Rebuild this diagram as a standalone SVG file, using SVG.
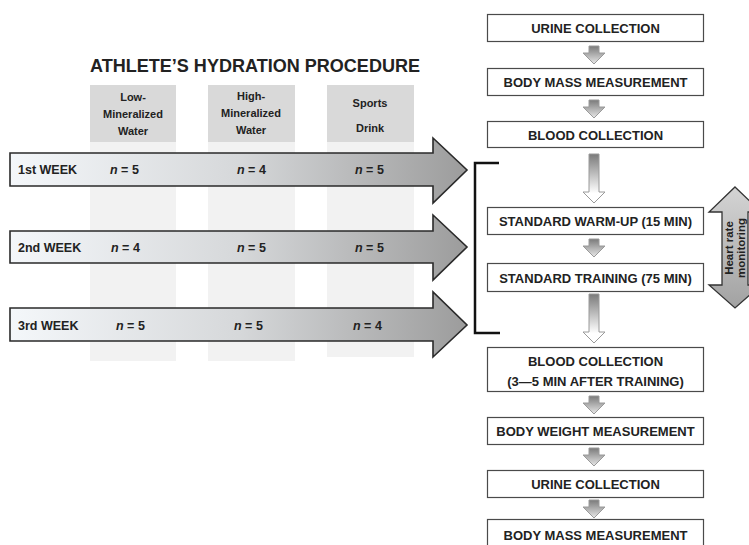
<svg xmlns="http://www.w3.org/2000/svg" width="749" height="545" viewBox="0 0 749 545">
<style>
.t{font-family:"Liberation Sans",Arial,sans-serif;font-weight:bold;fill:#222}
.box{fill:#fff;stroke:#4a4a4a;stroke-width:1.2}
.bt{font-size:13px;text-anchor:middle}
.hd{font-size:11px;text-anchor:middle}
.wk{font-size:12.5px}
.nn{font-size:12.5px}
.week{stroke:#2a2a2a;stroke-width:1.6;fill:url(#gw)}
.sa{fill:url(#gs);stroke:#9a9a9a;stroke-width:1}
.la{fill:url(#gl);stroke:#9a9a9a;stroke-width:1}
</style>
<defs>
<linearGradient id="gw" gradientUnits="userSpaceOnUse" x1="10" y1="0" x2="467" y2="0">
<stop offset="0" stop-color="#f4f7fa"/><stop offset="0.5" stop-color="#d6d8da"/><stop offset="1" stop-color="#9c9c9c"/>
</linearGradient>
<linearGradient id="gs" x1="0" y1="0" x2="0" y2="1">
<stop offset="0" stop-color="#7a7a7a"/><stop offset="1" stop-color="#e8e8e8"/>
</linearGradient>
<linearGradient id="gl" x1="0" y1="0" x2="0" y2="1">
<stop offset="0" stop-color="#7a7a7a"/><stop offset="0.8" stop-color="#ffffff"/><stop offset="1" stop-color="#ffffff"/>
</linearGradient>
<linearGradient id="gh" x1="0" y1="0" x2="0" y2="1">
<stop offset="0" stop-color="#d4d4d4"/><stop offset="1" stop-color="#a2a2a2"/>
</linearGradient>
<path id="small" d="M-5,0 L5,0 L5,7 L11,7 L0,18 L-11,7 L-5,7 Z"/>
<path id="long" d="M-5,0 L5,0 L5,38 L11,38 L0,49 L-11,38 L-5,38 Z"/>
</defs>
<rect width="749" height="545" fill="#fff"/>

<text class="t" x="255" y="72" font-size="19" text-anchor="middle" textLength="330" lengthAdjust="spacingAndGlyphs">ATHLETE’S HYDRATION PROCEDURE</text>

<g id="col-low">
<rect x="90" y="142" width="86" height="219" fill="#f2f2f2"/>
<rect x="90" y="85" width="86" height="57" fill="#d9d9d9"/>
<text class="t hd" x="133" y="101">Low-</text>
<text class="t hd" x="133" y="118">Mineralized</text>
<text class="t hd" x="133" y="135">Water</text>
</g>
<g id="col-high">
<rect x="208" y="142" width="87" height="219" fill="#f2f2f2"/>
<rect x="208" y="85" width="87" height="57" fill="#d9d9d9"/>
<text class="t hd" x="251" y="100">High-</text>
<text class="t hd" x="251" y="117">Mineralized</text>
<text class="t hd" x="251" y="134">Water</text>
</g>
<g id="col-sports">
<rect x="327" y="142" width="87" height="215" fill="#f2f2f2"/>
<rect x="327" y="85" width="87" height="57" fill="#d9d9d9"/>
<text class="t hd" x="370" y="107">Sports</text>
<text class="t hd" x="370" y="132">Drink</text>
</g>

<g id="week1">
<path class="week" d="M10,153 L433,153 L433,138 L467,170 L433,203 L433,186 L10,186 Z"/>
<text class="t wk" x="18" y="174">1st WEEK</text>
<text class="t nn" x="110" y="174"><tspan font-style="italic">n</tspan> = 5</text>
<text class="t nn" x="237" y="174"><tspan font-style="italic">n</tspan> = 4</text>
<text class="t nn" x="355" y="174"><tspan font-style="italic">n</tspan> = 5</text>
</g>
<g id="week2">
<path class="week" d="M10,231 L433,231 L433,215 L467,247 L433,280 L433,263 L10,263 Z"/>
<text class="t wk" x="18" y="252">2nd WEEK</text>
<text class="t nn" x="111" y="252"><tspan font-style="italic">n</tspan> = 4</text>
<text class="t nn" x="237" y="252"><tspan font-style="italic">n</tspan> = 5</text>
<text class="t nn" x="355" y="252"><tspan font-style="italic">n</tspan> = 5</text>
</g>
<g id="week3">
<path class="week" d="M10,308 L433,308 L433,292 L467,325 L433,357 L433,341 L10,341 Z"/>
<text class="t wk" x="18" y="330">3rd WEEK</text>
<text class="t nn" x="116" y="330"><tspan font-style="italic">n</tspan> = 5</text>
<text class="t nn" x="234" y="330"><tspan font-style="italic">n</tspan> = 5</text>
<text class="t nn" x="353" y="330"><tspan font-style="italic">n</tspan> = 4</text>
</g>

<g id="bracket">
<path d="M499,163 L475,163 L475,333 L500,333" fill="none" stroke="#111" stroke-width="2.5"/>
</g>

<g id="connectors">
<use href="#small" class="sa" x="594" y="46"/>
<use href="#small" class="sa" x="594" y="100"/>
<use href="#long" class="la" x="594" y="154"/>
<use href="#small" class="sa" x="594" y="239"/>
<use href="#long" class="la" x="594" y="294"/>
<use href="#small" class="sa" x="594" y="396"/>
<use href="#small" class="sa" x="594" y="448"/>
<use href="#small" class="sa" x="594" y="500"/>
</g>

<g id="s1"><rect class="box" x="487.5" y="14.5" width="216" height="27"/><text class="t bt" x="595.5" y="32.5">URINE COLLECTION</text></g>
<g id="s2"><rect class="box" x="487.5" y="68.5" width="216" height="27"/><text class="t bt" x="595.5" y="86.5">BODY MASS MEASUREMENT</text></g>
<g id="s3"><rect class="box" x="487.5" y="121.5" width="216" height="26"/><text class="t bt" x="595.5" y="139.5">BLOOD COLLECTION</text></g>
<g id="s4"><rect class="box" x="487.5" y="207.5" width="216" height="27"/><text class="t bt" x="595.5" y="225.5">STANDARD WARM-UP (15 MIN)</text></g>
<g id="s5"><rect class="box" x="487.5" y="263.5" width="216" height="28"/><text class="t bt" x="595.5" y="282.5">STANDARD TRAINING (75 MIN)</text></g>
<g id="s6"><rect class="box" x="487.5" y="347.5" width="216" height="44"/><text class="t bt" x="595.5" y="366">BLOOD COLLECTION</text><text class="t bt" x="595.5" y="386">(3—5 MIN AFTER TRAINING)</text></g>
<g id="s7"><rect class="box" x="487.5" y="417.5" width="216" height="27"/><text class="t bt" x="595.5" y="435.5">BODY WEIGHT MEASUREMENT</text></g>
<g id="s8"><rect class="box" x="487.5" y="470.5" width="216" height="27"/><text class="t bt" x="595.5" y="488.5">URINE COLLECTION</text></g>
<g id="s9"><rect class="box" x="487.5" y="519.5" width="216" height="30"/><text class="t bt" x="595.5" y="540">BODY MASS MEASUREMENT</text></g>

<g id="heart-rate">
<path d="M735,187 L761,212 L748,212 L748,285 L761,285 L735,308 L709,285 L722,285 L722,212 L709,212 Z" fill="url(#gh)" stroke="#333" stroke-width="1.3"/>
<text class="t" font-size="11.5" text-anchor="middle" transform="translate(733,248) rotate(-90)">Heart rate</text>
<text class="t" font-size="11.5" text-anchor="middle" transform="translate(744.5,248) rotate(-90)">monitoring</text>
</g>
</svg>
